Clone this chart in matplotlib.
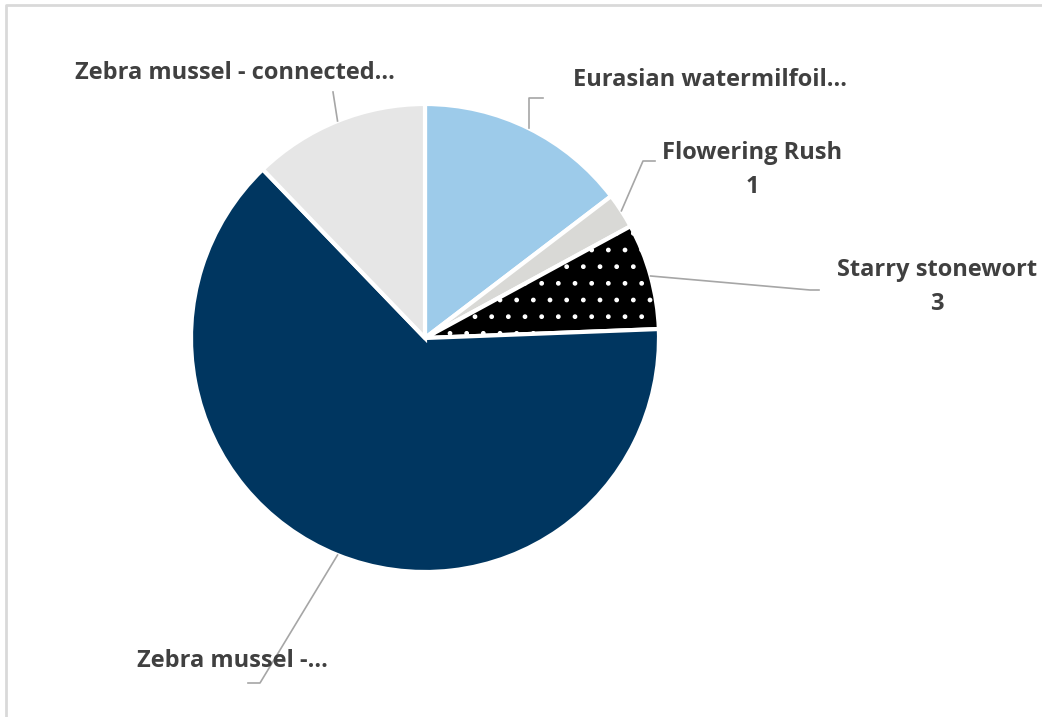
import numpy as np
import matplotlib.pyplot as plt

labels = ["Eurasian watermilfoil…", "Flowering Rush", "Starry stonewort",
          "Zebra mussel -…", "Zebra mussel - connected…"]
values = [6, 1, 3, 26, 5]
colors = ["#9DCBEA", "#D9D9D6", "#000000", "#003660", "#E6E6E6"]

plt.rcParams["font.family"] = ["Open Sans", "DejaVu Sans"]
plt.rcParams["hatch.linewidth"] = 1.0

fig = plt.figure(figsize=(10.42, 7.17), dpi=100)
ax = fig.add_axes([0, 0, 1, 1])

# chart border (only top/left visible)
ax.plot([6, 6, 1100], [-10, 712, 712], color="#D9D9D9", lw=2, clip_on=False)

cx, cy, r = 425, 379, 234
wedges, _ = ax.pie(values, colors=colors, startangle=90, counterclock=False,
                   center=(cx, cy), radius=r, frame=True,
                   wedgeprops=dict(edgecolor="white", linewidth=3))
ax.set_xlim(0, 1042)
ax.set_ylim(0, 717)
ax.set_aspect("equal")
ax.axis("off")
wedges[2].set_hatch(".")

def anchor(w):
    mid = np.deg2rad((w.theta1 + w.theta2) / 2)
    return cx + r * np.cos(mid), cy + r * np.sin(mid)

lc = "#A6A6A6"
tc = "#404040"
fs = 17

# Eurasian
x0, y0 = anchor(wedges[0])
ax.plot([x0, x0, 543], [y0, 619, 619], color=lc, lw=1.2)
ax.text(573, 637, labels[0], ha="left", va="center", fontsize=fs, fontweight="bold", color=tc)

# Flowering Rush
x0, y0 = anchor(wedges[1])
ax.plot([x0, 643, 655], [y0, 556, 556], color=lc, lw=1.2)
ax.text(752, 547, labels[1] + "\n" + str(values[1]), ha="center", va="center",
        fontsize=fs, fontweight="bold", color=tc, linespacing=1.55)

# Starry stonewort
x0, y0 = anchor(wedges[2])
ax.plot([x0, 810, 819], [y0, 427, 427], color=lc, lw=1.2)
ax.text(937, 430, labels[2] + "\n" + str(values[2]), ha="center", va="center",
        fontsize=fs, fontweight="bold", color=tc, linespacing=1.55)

# Zebra mussel
x0, y0 = anchor(wedges[3])
ax.plot([x0, 260, 248], [y0, 34, 34], color=lc, lw=1.2)
ax.text(137, 56, labels[3], ha="left", va="center", fontsize=fs, fontweight="bold", color=tc)

# Zebra mussel - connected
x0, y0 = anchor(wedges[4])
ax.plot([x0, 333], [y0, 625], color=lc, lw=1.2)
ax.text(75, 644, labels[4], ha="left", va="center", fontsize=fs, fontweight="bold", color=tc)

fig.savefig("out.png", dpi=100)
